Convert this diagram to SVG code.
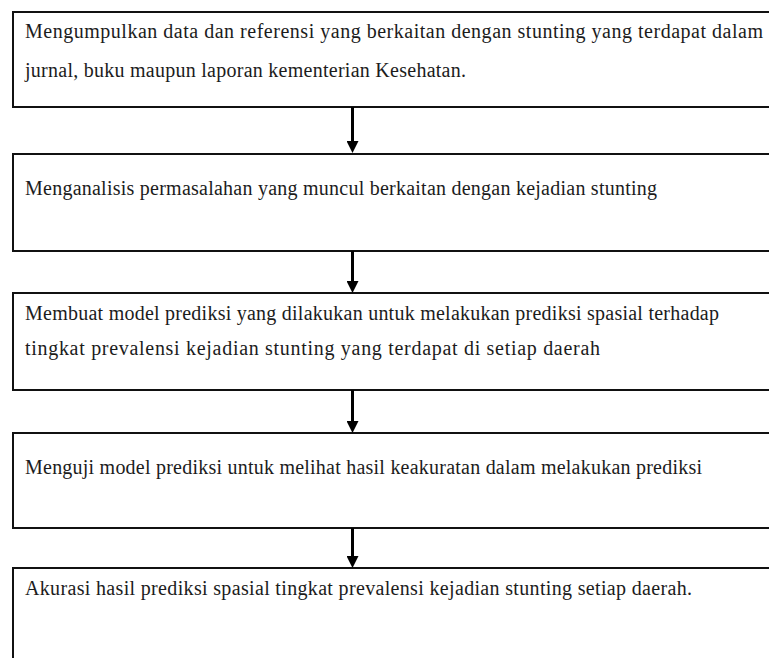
<svg xmlns="http://www.w3.org/2000/svg" width="769" height="658" viewBox="0 0 769 658">
<style>
.box{fill:#fff;stroke:#111;stroke-width:2}
.t{font-family:"Liberation Serif","Times New Roman",serif;font-size:20px;fill:#1c1c1c}
.c{stroke:#000;stroke-width:3;fill:none}
</style>
<defs>
<marker id="ah" markerUnits="userSpaceOnUse" markerWidth="12" markerHeight="12" refX="0" refY="6" orient="auto">
<path d="M0,0 L12,6 L0,12 z" fill="#000"/>
</marker>
</defs>
<rect x="0" y="0" width="769" height="658" fill="#fff"/>
<g id="node1">
<rect class="box" x="13" y="12" width="770" height="95"/>
<text class="t" x="25" y="38" textLength="738" lengthAdjust="spacing">Mengumpulkan data dan referensi yang berkaitan dengan stunting yang terdapat dalam</text>
<text class="t" x="25" y="77" textLength="441" lengthAdjust="spacing">jurnal, buku maupun laporan kementerian Kesehatan.</text>
</g>
<g id="node2">
<rect class="box" x="13" y="154" width="770" height="97"/>
<text class="t" x="25" y="195" textLength="632" lengthAdjust="spacing">Menganalisis permasalahan yang muncul berkaitan dengan kejadian stunting</text>
</g>
<g id="node3">
<rect class="box" x="13" y="293" width="770" height="97"/>
<text class="t" x="25" y="320" textLength="694" lengthAdjust="spacing">Membuat model prediksi yang dilakukan untuk melakukan prediksi spasial terhadap</text>
<text class="t" x="25" y="355" textLength="575" lengthAdjust="spacing">tingkat prevalensi kejadian stunting yang terdapat di setiap daerah</text>
</g>
<g id="node4">
<rect class="box" x="13" y="433" width="770" height="95"/>
<text class="t" x="25" y="474" textLength="677" lengthAdjust="spacing">Menguji model prediksi untuk melihat hasil keakuratan dalam melakukan prediksi</text>
</g>
<g id="node5">
<rect class="box" x="13" y="568" width="770" height="100"/>
<text class="t" x="25" y="595" textLength="667" lengthAdjust="spacing">Akurasi hasil prediksi spasial tingkat prevalensi kejadian stunting setiap daerah.</text>
</g>
<g id="connectors">
<line class="c" x1="352.5" y1="107" x2="352.5" y2="141" marker-end="url(#ah)"/>
<line class="c" x1="352.5" y1="251" x2="352.5" y2="281" marker-end="url(#ah)"/>
<line class="c" x1="352.5" y1="390" x2="352.5" y2="421" marker-end="url(#ah)"/>
<line class="c" x1="352.5" y1="528" x2="352.5" y2="556" marker-end="url(#ah)"/>
</g>
</svg>
